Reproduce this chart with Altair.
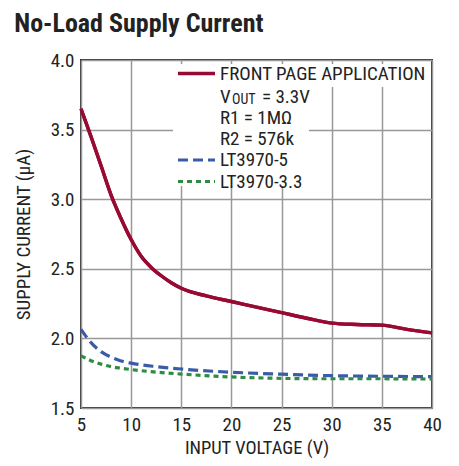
import altair as alt
import pandas as pd

FONT = "Liberation Sans Narrow, Roboto Condensed, Arial Narrow, sans-serif"

red_x = [5, 6, 7, 8, 9, 10, 11, 12, 13, 14, 15, 17.5, 20, 22.5, 25, 27.5, 30, 32.5, 35, 37.5, 40]
red_y = [3.65, 3.45, 3.24, 3.03, 2.86, 2.71, 2.59, 2.51, 2.45, 2.40, 2.36, 2.305, 2.265, 2.225, 2.185, 2.145, 2.11, 2.10, 2.095, 2.065, 2.04]
blue_x = [5, 6, 7, 8, 9, 10, 12.5, 15, 20, 25, 30, 35, 40]
blue_y = [2.065, 1.97, 1.905, 1.865, 1.838, 1.822, 1.797, 1.78, 1.757, 1.743, 1.732, 1.728, 1.725]
green_x = [5, 6, 7, 8, 9, 10, 12.5, 15, 20, 25, 30, 35, 40]
green_y = [1.875, 1.84, 1.815, 1.797, 1.786, 1.776, 1.758, 1.744, 1.723, 1.713, 1.71, 1.71, 1.708]

x_ticks = [5, 10, 15, 20, 25, 30, 35, 40]
y_ticks = [1.5, 2.0, 2.5, 3.0, 3.5, 4.0]

RED = "#990a32"
BLUE = "#3a5ca8"
GREEN = "#2e8c40"

red_df = pd.DataFrame({"v": red_x, "i": red_y})
blue_df = pd.DataFrame({"v": blue_x, "i": blue_y})
green_df = pd.DataFrame({"v": green_x, "i": green_y})

xs = alt.Scale(domain=[5, 40], nice=False, zero=False)
ys = alt.Scale(domain=[1.5, 4.0], nice=False, zero=False)

xenc = alt.X("v:Q", scale=xs, axis=alt.Axis(values=x_ticks, title="INPUT VOLTAGE (V)", format="d"))
yenc = alt.Y("i:Q", scale=ys, axis=alt.Axis(values=y_ticks, title="SUPPLY CURRENT (µA)", format=".1f"))

red = alt.Chart(red_df).mark_line(color=RED, strokeWidth=3.4, interpolate="monotone").encode(x=xenc, y=yenc)
blue = alt.Chart(blue_df).mark_line(color=BLUE, strokeWidth=3.2, strokeDash=[10, 5], interpolate="monotone").encode(x=xenc, y=yenc)
green = alt.Chart(green_df).mark_line(color=GREEN, strokeWidth=3.2, strokeDash=[5, 4], interpolate="monotone").encode(x=xenc, y=yenc)

one = pd.DataFrame({"a": [0]})
base = alt.Chart(one)

# legend backgrounds
bg1 = base.mark_rect(color="white").encode(x=alt.value(92), x2=alt.value(349), y=alt.value(4), y2=alt.value(27))
bg2 = base.mark_rect(color="white").encode(x=alt.value(92), x2=alt.value(228), y=alt.value(27), y2=alt.value(126))

# legend swatches
sw_red = base.mark_rule(color=RED, strokeWidth=3.4).encode(x=alt.value(97), x2=alt.value(134), y=alt.value(13.5))
sw_blue = base.mark_rule(color=BLUE, strokeWidth=3.2, strokeDash=[10, 5]).encode(x=alt.value(97), x2=alt.value(134), y=alt.value(100))
sw_green = base.mark_rule(color=GREEN, strokeWidth=3.2, strokeDash=[5, 4]).encode(x=alt.value(97), x2=alt.value(134), y=alt.value(121.5))

legend_rows = [
    ("FRONT PAGE APPLICATION", 139, 13.5, 19),
    ("V", 139, 36.5, 19),
    ("OUT", 151, 40, 14),
    ("= 3.3V", 181, 36.5, 19),
    ("R1 = 1MΩ", 139, 58, 19),
    ("R2 = 576k", 139, 79, 19),
    ("LT3970-5", 139, 100, 19),
    ("LT3970-3.3", 139, 121.5, 19),
]
texts = []
for t, x, y, s in legend_rows:
    texts.append(
        base.mark_text(align="left", baseline="middle", font=FONT, fontSize=s, color="#222")
        .encode(x=alt.value(x), y=alt.value(y), text=alt.value(t))
    )

chart = alt.layer(red, bg1, bg2, blue, green, red, sw_red, sw_blue, sw_green, *texts).properties(
    width=351,
    height=348,
    autosize=alt.AutoSizeParams(type="none"),
    padding={"left": 73, "top": 52, "right": 19, "bottom": 50},
    title=alt.TitleParams(
        "No-Load Supply Current",
        anchor="start",
        font=FONT,
        fontSize=26,
        fontWeight="bold",
        color="#222",
        offset=14,
    ),
).configure_view(
    stroke="#333", strokeWidth=2
).configure_axis(
    labelFont=FONT,
    labelFontSize=19,
    labelColor="#222",
    titleFont=FONT,
    titleFontSize=19,
    titleColor="#222",
    titleFontWeight="normal",
    grid=True,
    gridColor="#999",
    gridWidth=1.5,
    ticks=False,
    domain=False,
    labelPadding=7,
    labelFlush=False,
).configure_axisY(
    titlePadding=17,
).configure_axisX(
    titlePadding=4,
    titleFontSize=18.5,
)

chart.save("out.html", embed_options={"renderer": "svg", "actions": False})
